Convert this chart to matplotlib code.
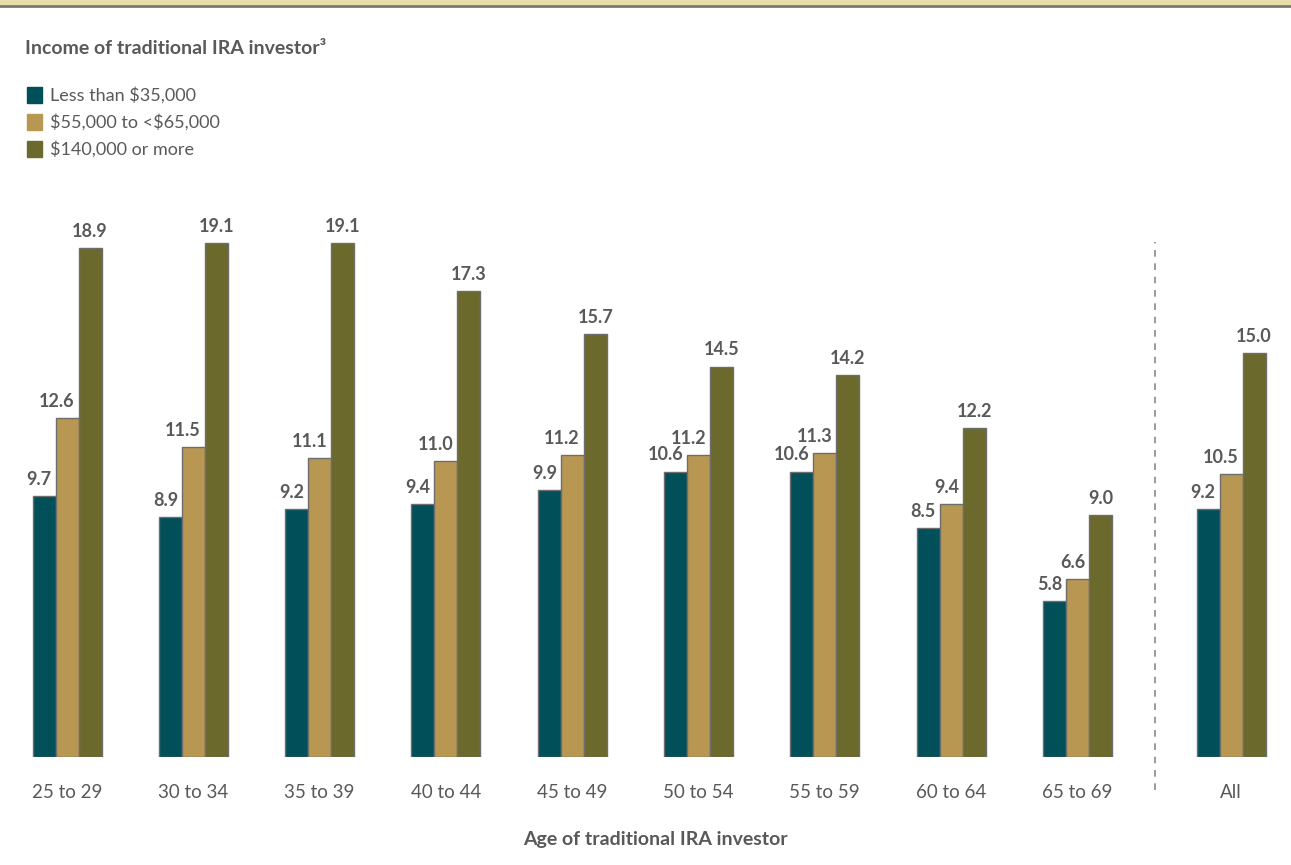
import numpy as np
import matplotlib
matplotlib.use('Agg')
import matplotlib.pyplot as plt
from matplotlib.patches import Rectangle

ages = ['25 to 29', '30 to 34', '35 to 39', '40 to 44', '45 to 49',
        '50 to 54', '55 to 59', '60 to 64', '65 to 69', 'All']
series_names = ['Less than $35,000', '$55,000 to <$65,000', '$140,000 or more']
low_income = [9.7, 8.9, 9.2, 9.4, 9.9, 10.6, 10.6, 8.5, 5.8, 9.2]
mid_income = [12.6, 11.5, 11.1, 11.0, 11.2, 11.2, 11.3, 9.4, 6.6, 10.5]
high_income = [18.9, 19.1, 19.1, 17.3, 15.7, 14.5, 14.2, 12.2, 9.0, 15.0]

colors = ['#004f59', '#b89752', '#6b6a2c']
text_color = '#58595b'
plt.rcParams['font.family'] = ['Lato', 'DejaVu Sans']
plt.rcParams['text.parse_math'] = False

W, H = 1291, 865
fig = plt.figure(figsize=(W / 100, H / 100), dpi=100)

# top band
fig.patches.append(Rectangle((0, 1 - 5 / H), 1, 5 / H, transform=fig.transFigure,
                             color='#e8dcaa', zorder=0))
fig.lines.append(plt.Line2D([0, 1], [1 - 6 / H, 1 - 6 / H], transform=fig.transFigure,
                            color='#7a7a72', linewidth=2))

# axes placed in pixel space: group 0 center at 67px, step 126.3px, baseline at 757px
step = 126.3
px_per_unit = 26.93
ax_top = 200
ax = fig.add_axes([0, (H - 757) / H, 1, (757 - ax_top) / H])
ax.set_xlim(-67 / step, (W - 67) / step)
ax.set_ylim(0, (757 - ax_top) / px_per_unit)
ax.axis('off')

x = np.arange(len(ages), dtype=float)
x[-1] = (1231 - 67) / step
bw = 23 / step

for i, vals in enumerate([low_income, mid_income, high_income]):
    xs = x + (i - 1) * bw
    ax.bar(xs, vals, width=bw, color=colors[i], edgecolor='#6d6d6d', linewidth=1)
    for xv, v in zip(xs, vals):
        if i < 2:
            ax.text(xv + bw / 2 - 0.03, v + 0.3, f'{v:.1f}', ha='right', va='bottom',
                    fontsize=13, fontweight='bold', color=text_color)
        else:
            ax.text(xv, v + 0.3, f'{v:.1f}', ha='center', va='bottom',
                    fontsize=13, fontweight='bold', color=text_color)

# dashed separator
sep_x = (1155 - 67) / step
ax.plot([sep_x, sep_x], [-33 / px_per_unit, (757 - 242) / px_per_unit], color='#8a8a8a',
        linestyle=(0, (4, 4)), linewidth=1.2, clip_on=False)

# category labels
for xv, lab in zip(x, ages):
    ax.text(xv, -35 / px_per_unit, lab, ha='center', va='center', fontsize=13.5,
            color=text_color)

fig.text(655 / W, 1 - 840 / H, 'Age of traditional IRA investor', ha='center', va='center',
         fontsize=14, fontweight='bold', color=text_color)

fig.text(25 / W, 1 - 48 / H, 'Income of traditional IRA investor³', ha='left',
         va='center', fontsize=14, fontweight='bold', color=text_color)

for k, name in enumerate(series_names):
    yc = 1 - (95 + 27 * k) / H
    fig.patches.append(Rectangle((27 / W, yc - 7.5 / H), 15 / W, 15 / H,
                                 transform=fig.transFigure, color=colors[k]))
    fig.text(50 / W, yc, name, ha='left', va='center', fontsize=13,
             color=text_color)

fig.savefig('out.png', dpi=100, facecolor='white')
